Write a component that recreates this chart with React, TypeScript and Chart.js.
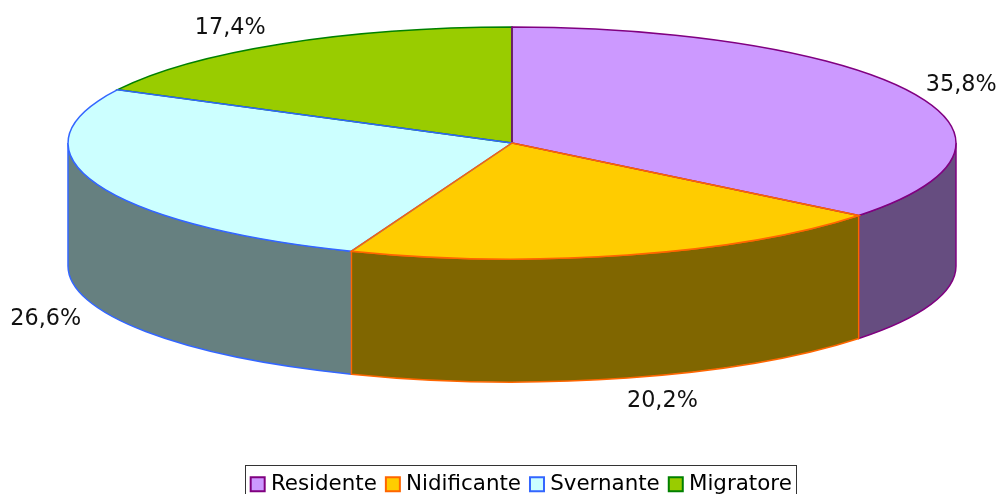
import React, { useEffect, useRef } from "react";
import { Chart, registerables } from "chart.js";

Chart.register(...registerables);

const categories = ["Residente", "Nidificante", "Svernante", "Migratore"];
const shares = [35.74, 20.15, 26.71, 17.4];
const shareLabels = ["35,8%", "20,2%", "26,6%", "17,4%"];
const fillColors = ["#CC99FF", "#FFCC00", "#CCFFFF", "#99CC00"];
const edgeColors = ["#800080", "#FF6600", "#3366FF", "#008000"];
const wallColors = ["#664D80", "#806600", "#668080", "#4D6600"];

const FONT = '"DejaVu Sans", sans-serif';
const CX = 512;
const CY = 143;
const RX = 444;
const RY = 116;
const DEPTH = 123;
const EDGE_ORDER = [3, 0, 2, 1];
const LABEL_SHIFT = [
  [49, -8],
  [35, 146],
  [-51, 135],
  [-51, -16],
];

const piePlugin = {
  id: "pie3d",
  beforeDatasetsDraw(chart: any) {
    const { ctx } = chart;
    const arcs = chart.getDatasetMeta(0).data;
    for (const i of EDGE_ORDER) {
      const a0 = Math.max(arcs[i].startAngle, 0);
      const a1 = Math.min(arcs[i].endAngle, Math.PI);
      if (a1 <= a0) continue;
      ctx.save();
      ctx.beginPath();
      ctx.ellipse(CX, CY, RX, RY, 0, a0, a1);
      ctx.lineTo(CX + RX * Math.cos(a1), CY + DEPTH + RY * Math.sin(a1));
      ctx.ellipse(CX, CY + DEPTH, RX, RY, 0, a1, a0, true);
      ctx.closePath();
      ctx.fillStyle = wallColors[i];
      ctx.fill();
      ctx.strokeStyle = edgeColors[i];
      ctx.lineWidth = 1.5;
      ctx.stroke();
      ctx.restore();
    }
    const first = arcs[0];
    ctx.save();
    ctx.translate(CX, CY);
    ctx.scale(1, RY / first.outerRadius);
    ctx.translate(-first.x, -first.y);
  },
  afterDatasetsDraw(chart: any) {
    const { ctx } = chart;
    ctx.restore();
    const arcs = chart.getDatasetMeta(0).data;
    for (const i of EDGE_ORDER) {
      ctx.save();
      ctx.beginPath();
      ctx.moveTo(CX, CY);
      ctx.ellipse(CX, CY, RX, RY, 0, arcs[i].startAngle, arcs[i].endAngle);
      ctx.closePath();
      ctx.strokeStyle = edgeColors[i];
      ctx.lineWidth = 1.5;
      ctx.stroke();
      ctx.restore();
    }
    ctx.save();
    ctx.font = `22.3px ${FONT}`;
    ctx.fillStyle = "#111111";
    ctx.textAlign = "center";
    ctx.textBaseline = "middle";
    arcs.forEach((arc: any, i: number) => {
      const mid = (arc.startAngle + arc.endAngle) / 2;
      const x = CX + RX * Math.cos(mid) + LABEL_SHIFT[i][0];
      const y = CY + RY * Math.sin(mid) + LABEL_SHIFT[i][1];
      ctx.fillText(shareLabels[i], x, y);
    });
    ctx.restore();
  },
  afterDraw(chart: any) {
    const { ctx, legend } = chart;
    const boxes = legend.legendHitBoxes;
    const last = boxes[boxes.length - 1];
    const left = Math.round(boxes[0].left - 10);
    const right = Math.round(last.left + last.width + 4);
    ctx.save();
    ctx.strokeStyle = "#333333";
    ctx.lineWidth = 1;
    ctx.strokeRect(left + 0.5, Math.round(legend.top) + 5.5, right - left, Math.round(legend.height));
    ctx.restore();
  },
};

export default function App() {
  const ref = useRef<HTMLCanvasElement>(null);
  useEffect(() => {
    document.body.style.margin = "0";
    const chart = new Chart(ref.current as HTMLCanvasElement, {
      type: "pie",
      data: {
        labels: categories,
        datasets: [
          {
            data: shares,
            backgroundColor: fillColors,
            borderColor: edgeColors,
            borderWidth: 0,
            clip: false,
          } as any,
        ],
      },
      options: {
        responsive: false,
        animation: false,
        radius: 444,
        rotation: 0,
        layout: { padding: { bottom: -11, left: 49 } },
        plugins: {
          tooltip: { enabled: false },
          legend: {
            display: true,
            position: "bottom",
            labels: {
              usePointStyle: true,
              boxWidth: 5,
              boxHeight: 14,
              padding: 13.5,
              color: "#111111",
              font: { family: FONT, size: 21.4 },
              generateLabels: () =>
                categories.map((text, i) => ({
                  text,
                  index: i,
                  hidden: false,
                  fillStyle: fillColors[i],
                  strokeStyle: edgeColors[i],
                  lineWidth: 2,
                  pointStyle: "rect",
                })),
            },
          },
        },
      } as any,
      plugins: [piePlugin],
    });
    return () => chart.destroy();
  }, []);
  return <canvas ref={ref} width={998} height={494} style={{ display: "block" }} />;
}
